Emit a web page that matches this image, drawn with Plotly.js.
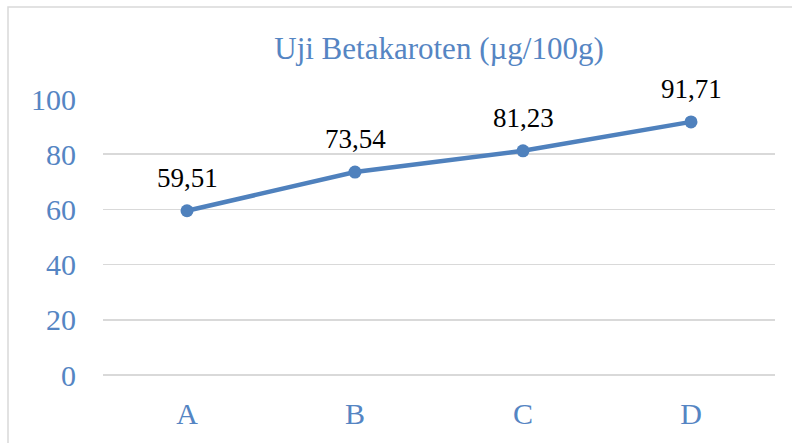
<!DOCTYPE html>
<html>
<head>
<meta charset="utf-8">
<script src="https://cdn.plot.ly/plotly-3.0.1.min.js"></script>
<style>html,body{margin:0;padding:0;background:#fff;}#chart{width:792px;height:443px;}</style>
</head>
<body>
<div id="chart"></div>
<script>
const categories = ["A", "B", "C", "D"];
const values = [59.51, 73.54, 81.23, 91.71];
const yTicks = [0, 20, 40, 60, 80, 100];
const chartTitle = "Uji Betakaroten (µg/100g)";

const blue = "#4f81bd";
const textBlue = "#5585c3";
const serif = "'Times New Roman', 'Liberation Serif', Times, 'DejaVu Serif', serif";

const trace = {
  x: categories,
  y: values,
  type: "scatter",
  mode: "lines+markers",
  line: {color: blue, width: 4.5},
  marker: {color: blue, size: 13},
  hoverinfo: "skip",
  cliponaxis: false
};

const annotations = categories.map((c, i) => ({
  x: c, y: values[i], xref: "x", yref: "y",
  text: values[i].toFixed(2).replace(".", ","),
  showarrow: false, yshift: 33,
  font: {family: serif, size: 27, color: "#000"}
}));

const layout = {
  width: 792, height: 443,
  margin: {l: 103, r: 17, t: 99, b: 68},
  paper_bgcolor: "#fff", plot_bgcolor: "#fff",
  separators: ",.",
  showlegend: false,
  title: {
    text: chartTitle,
    font: {family: serif, size: 31, color: textBlue},
    x: 0.5, xref: "paper", xanchor: "center",
    y: 1 - 48/443, yref: "container", yanchor: "middle"
  },
  xaxis: {
    type: "category",
    range: [-0.5, 3.5],
    showgrid: false, zeroline: false, showline: false,
    ticks: "",
    ticklabelstandoff: 18,
    tickfont: {family: serif, size: 30, color: textBlue}
  },
  yaxis: {
    range: [0, 100],
    tickvals: yTicks,
    showgrid: true, gridcolor: "#d9d9d9", gridwidth: 1.5,
    zeroline: true, zerolinecolor: "#d9d9d9", zerolinewidth: 1.5,
    showline: false, ticks: "",
    ticklabelstandoff: 26,
    tickfont: {family: serif, size: 30, color: textBlue}
  },
  annotations: annotations,
  shapes: [{
    type: "rect", xref: "paper", yref: "paper",
    x0: (8 - 103) / 672, x1: 1.2,
    y0: -0.4, y1: (375 - 7) / 276,
    line: {color: "#d9d9d9", width: 1.5},
    layer: "below"
  }]
};

Plotly.newPlot("chart", [trace], layout, {staticPlot: true, displayModeBar: false});
</script>
</body>
</html>
